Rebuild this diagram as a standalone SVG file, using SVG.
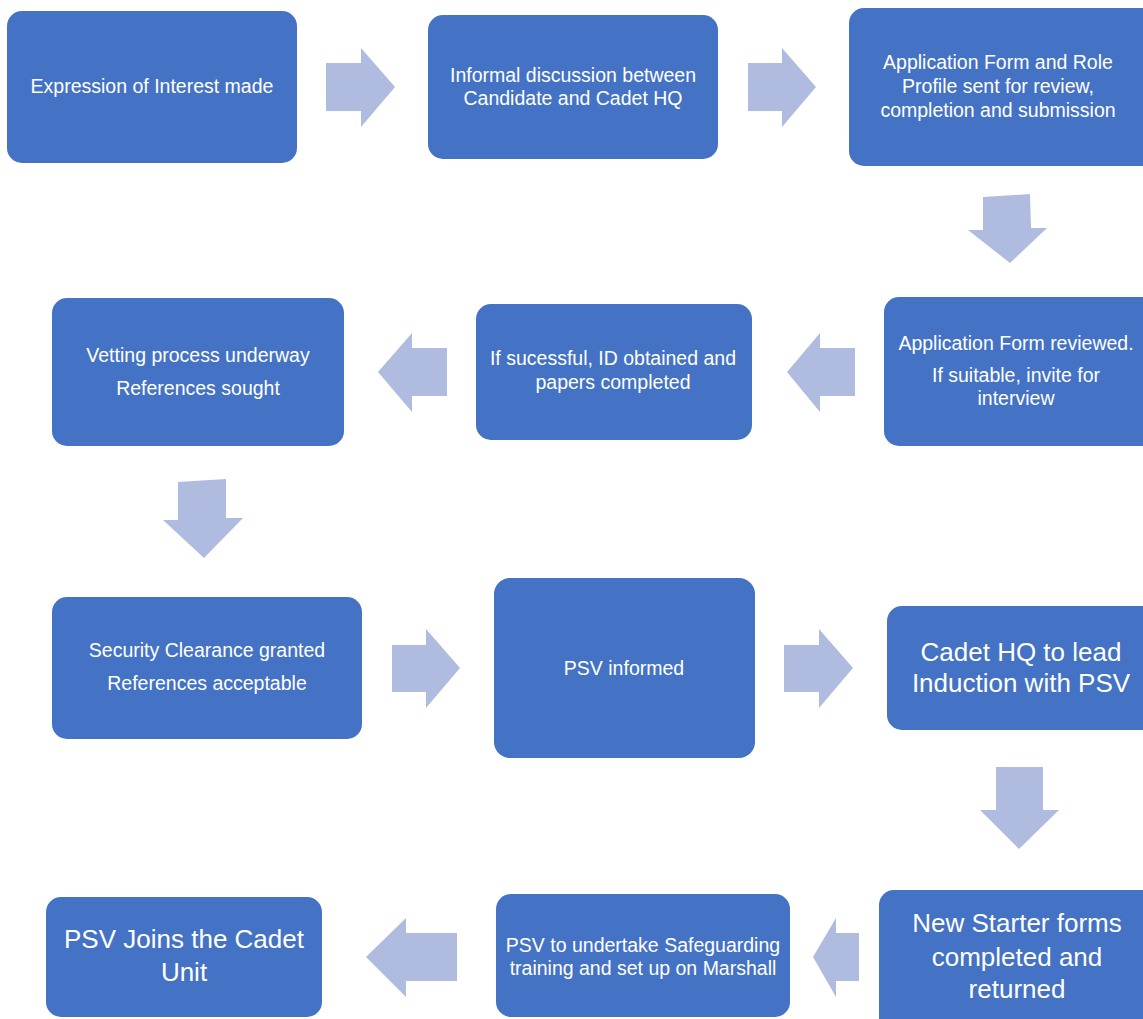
<svg xmlns="http://www.w3.org/2000/svg" width="1143" height="1019" viewBox="0 0 1143 1019">
  <style>
    .box { fill: #4472C4; }
    .arrow { fill: #AFBCDF; }
    .t { font-family: "Liberation Sans", Arial, sans-serif; fill: #FFFFFF; text-anchor: middle; font-size: 19.5px; }
    .big { font-size: 26px; }
  </style>
  <rect width="1143" height="1019" fill="#FFFFFF"/>

  <!-- connectors: block arrows between steps -->
  <g id="connectors">
    <polygon class="arrow" points="326,63 361,63 361,48 395,87 361,127 361,111 326,111"/>
    <polygon class="arrow" points="748,63 782,63 782,48 816,87 782,127 782,111 748,111"/>
    <polygon class="arrow" points="983,197 1030,194 1031,228 1047,228 1010,263 968,230 983,230"/>
    <polygon class="arrow" points="855,348 820,348 820,333 787,372 820,412 820,396 855,396"/>
    <polygon class="arrow" points="447,348 412,348 412,333 378,372 412,412 412,396 447,396"/>
    <polygon class="arrow" points="178,482 226,479 226,518 243,518 204,558 163,520 178,520"/>
    <polygon class="arrow" points="392,645 426,645 426,629 460,668 426,708 426,692 392,692"/>
    <polygon class="arrow" points="784,645 819,645 819,629 853,668 819,708 819,692 784,692"/>
    <polygon class="arrow" points="996,767 1043,767 1043,810 1059,810 1019,849 980,810 996,810"/>
    <polygon class="arrow" points="859,933 836,933 836,918 813,957 836,997 836,981 859,981"/>
    <polygon class="arrow" points="457,933 406,933 406,918 366,957 406,997 406,981 457,981"/>
  </g>

  <g id="step1">
    <rect class="box" x="7" y="11" width="290" height="152" rx="15"/>
    <text class="t" x="152" y="93">Expression of Interest made</text>
  </g>

  <g id="step2">
    <rect class="box" x="428" y="15" width="290" height="144" rx="15"/>
    <text class="t" x="573" y="82">Informal discussion between</text>
    <text class="t" x="573" y="105">Candidate and Cadet HQ</text>
  </g>

  <g id="step3">
    <rect class="box" x="849" y="8" width="310" height="158" rx="15"/>
    <text class="t" x="998" y="69">Application Form and Role</text>
    <text class="t" x="998" y="93">Profile sent for review,</text>
    <text class="t" x="998" y="117">completion and submission</text>
  </g>

  <g id="step4">
    <rect class="box" x="884" y="297" width="275" height="149" rx="15"/>
    <text class="t" x="1016" y="350">Application Form reviewed.</text>
    <text class="t" x="1016" y="382">If suitable, invite for</text>
    <text class="t" x="1016" y="405">interview</text>
  </g>

  <g id="step5">
    <rect class="box" x="476" y="304" width="276" height="136" rx="15"/>
    <text class="t" x="613" y="365">If sucessful, ID obtained and</text>
    <text class="t" x="613" y="389">papers completed</text>
  </g>

  <g id="step6">
    <rect class="box" x="52" y="298" width="292" height="148" rx="15"/>
    <text class="t" x="198" y="362">Vetting process underway</text>
    <text class="t" x="198" y="395">References sought</text>
  </g>

  <g id="step7">
    <rect class="box" x="52" y="597" width="310" height="142" rx="15"/>
    <text class="t" x="207" y="657">Security Clearance granted</text>
    <text class="t" x="207" y="690">References acceptable</text>
  </g>

  <g id="step8">
    <rect class="box" x="494" y="578" width="261" height="180" rx="16"/>
    <text class="t" x="624" y="675">PSV informed</text>
  </g>

  <g id="step9">
    <rect class="box" x="887" y="606" width="272" height="124" rx="15"/>
    <text class="t big" x="1021" y="661">Cadet HQ to lead</text>
    <text class="t big" x="1021" y="692">Induction with PSV</text>
  </g>

  <g id="step10">
    <rect class="box" x="879" y="890" width="280" height="150" rx="15"/>
    <text class="t big" x="1017" y="932">New Starter forms</text>
    <text class="t big" x="1017" y="966">completed and</text>
    <text class="t big" x="1017" y="998">returned</text>
  </g>

  <g id="step11">
    <rect class="box" x="496" y="894" width="294" height="123" rx="15"/>
    <text class="t" x="643" y="952">PSV to undertake Safeguarding</text>
    <text class="t" x="643" y="975">training and set up on Marshall</text>
  </g>

  <g id="step12">
    <rect class="box" x="46" y="897" width="276" height="120" rx="15"/>
    <text class="t big" x="184" y="948">PSV Joins the Cadet</text>
    <text class="t big" x="184" y="981">Unit</text>
  </g>
</svg>
